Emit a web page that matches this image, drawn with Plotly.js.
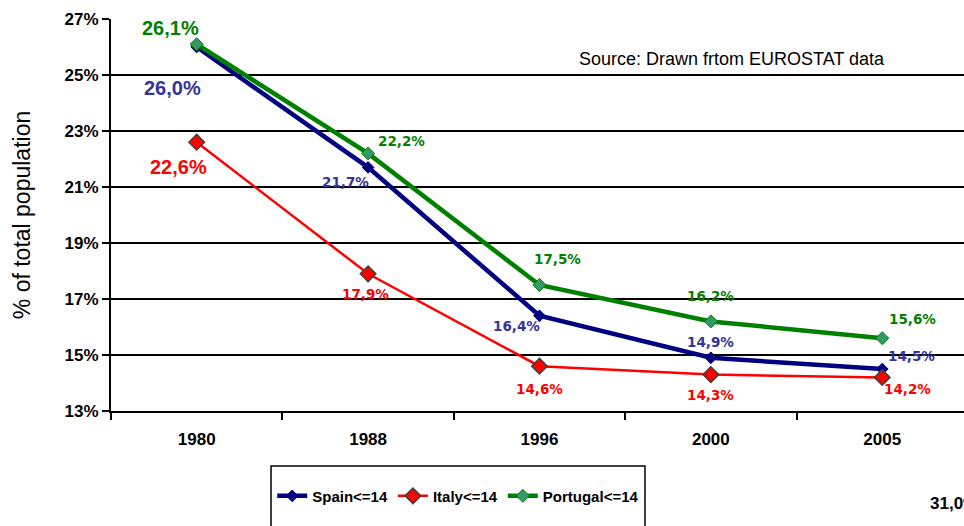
<!DOCTYPE html>
<html>
<head>
<meta charset="utf-8">
<script src="https://cdn.plot.ly/plotly-3.0.1.min.js"></script>
<style>
  html, body { margin: 0; padding: 0; background: #fff; }
  #chart { width: 964px; height: 526px; }
</style>
</head>
<body>
<div id="chart"></div>
<script>
// values (% of population aged <= 14)
const years = ["1980", "1988", "1996", "2000", "2005"];
const spain = [26.0, 21.7, 16.4, 14.9, 14.5];
const italy = [22.6, 17.9, 14.6, 14.3, 14.2];
const portugal = [26.1, 22.2, 17.5, 16.2, 15.6];
const yTicks = [13, 15, 17, 19, 21, 23, 25, 27];

const FONT = "Arial, 'Liberation Sans', sans-serif";
const LABEL_FONT = "'DejaVu Sans', Arial, sans-serif";

// label placement, pixels relative to the point: [dx, dy] (dy down is positive)
const spainOffsets = [[-24, 41], [-23, 15], [-23, 10], [0, -16], [29, -13]];
const italyOffsets = [[-18, 25], [-3, 20], [0, 23], [0, 20], [25, 12]];
const portugalOffsets = [[-26, -16], [33, -12], [18, -26], [0, -25], [30, -19]];

const series = [
  { name: "Spain<=14", y: spain, line: "#000080", width: 4.5,
    marker: { symbol: "diamond", size: 9, color: "#000080", line: { color: "#000080", width: 1 } },
    labelColor: "#333399", offsets: spainOffsets },
  { name: "Italy<=14", y: italy, line: "#FF0000", width: 2.5,
    marker: { symbol: "diamond", size: 12, color: "#FF0000", line: { color: "#404040", width: 1.5 } },
    labelColor: "#FF0000", offsets: italyOffsets },
  { name: "Portugal<=14", y: portugal, line: "#008000", width: 4.5,
    marker: { symbol: "diamond", size: 10, color: "#339966", line: { color: "#008000", width: 1 } },
    labelColor: "#008000", offsets: portugalOffsets },
];

function fmt(v) {
  return v.toFixed(1).replace(".", ",") + "%";
}

const traces = series.map((s) => ({
  type: "scatter",
  mode: "lines+markers",
  name: s.name,
  x: years,
  y: s.y,
  line: { color: s.line, width: s.width },
  marker: s.marker,
  hoverinfo: "skip",
}));

// data labels; category axis, so x is the category index
const annotations = [];
series.forEach((s) => {
  s.y.forEach((v, i) => {
    const big = i === 0;
    annotations.push({
      x: i, y: v, xref: "x", yref: "y",
      text: fmt(v), showarrow: false,
      xanchor: "center", yanchor: "middle",
      xshift: s.offsets[i][0], yshift: -s.offsets[i][1],
      font: big
        ? { family: FONT, size: 20, color: s.labelColor, weight: "bold" }
        : { family: LABEL_FONT, size: 13.5, color: s.labelColor, weight: "bold" },
    });
  });
});

annotations.push({
  xref: "paper", yref: "paper", x: 0.728, y: 0.898,
  xanchor: "center", yanchor: "middle",
  text: "Source: Drawn frtom EUROSTAT data", showarrow: false,
  font: { family: FONT, size: 18, color: "#000" },
});
annotations.push({
  xref: "paper", yref: "paper", x: 0.958, y: -0.235,
  xanchor: "left", yanchor: "middle",
  text: "31,0%", showarrow: false,
  font: { family: FONT, size: 17, color: "#000", weight: "bold" },
});

const layout = {
  width: 964,
  height: 526,
  margin: { l: 111, r: 0, t: 19, b: 115 },
  paper_bgcolor: "#fff",
  plot_bgcolor: "#fff",
  font: { family: FONT, color: "#000" },
  xaxis: {
    type: "category",
    range: [-0.5, 4.477],
    tickson: "boundaries",
    ticks: "outside",
    ticklen: 7,
    tickwidth: 2,
    tickcolor: "#000",
    ticklabelstandoff: 12,
    showgrid: false,
    showline: true,
    linecolor: "#000",
    linewidth: 2,
    tickfont: { family: FONT, size: 17, weight: "bold" },
    fixedrange: true,
  },
  yaxis: {
    range: [13, 27],
    tickvals: yTicks,
    ticktext: yTicks.map((t) => t + "%"),
    ticks: "outside",
    ticklen: 7,
    tickwidth: 2,
    tickcolor: "#000",
    showgrid: true,
    gridcolor: "#000",
    gridwidth: 1.5,
    zeroline: false,
    showline: true,
    linecolor: "#000",
    linewidth: 2,
    tickfont: { family: FONT, size: 17, weight: "bold" },
    title: { text: "% of total population", font: { family: FONT, size: 23 }, standoff: 28 },
    fixedrange: true,
  },
  showlegend: true,
  legend: {
    orientation: "h",
    x: 0.189, y: -0.175,
    xanchor: "left", yanchor: "top",
    bgcolor: "rgba(0,0,0,0)",
    borderwidth: 0,
    itemwidth: 30,
    font: { family: FONT, size: 15, weight: "bold" },
  },
  shapes: [{
    type: "rect", xref: "paper", yref: "paper",
    x0: 0.1876, x1: 0.626, y0: -0.1403, y1: -0.33,
    line: { color: "#000", width: 1.5 },
  }],
  annotations: annotations,
};

Plotly.newPlot("chart", traces, layout, { displayModeBar: false, staticPlot: true });
</script>
</body>
</html>
